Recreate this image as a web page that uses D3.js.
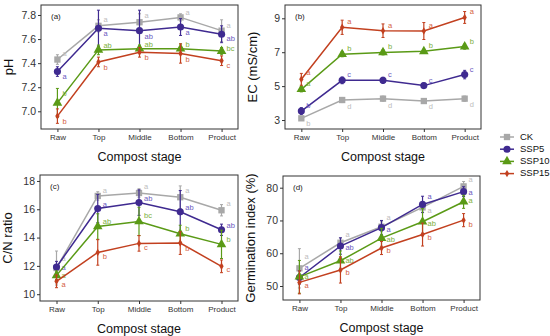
<!DOCTYPE html>
<html>
<head>
<meta charset="utf-8">
<script src="https://cdn.jsdelivr.net/npm/d3@7"></script>
<style>
  body { margin: 0; background: #fff; }
  text { font-family: Arial, "Liberation Sans", sans-serif; }
</style>
</head>
<body>
<script>
var stages = ["Raw", "Top", "Middle", "Bottom", "Product"];
var groups = ["CK", "SSP5", "SSP10", "SSP15"];

// rows: CK, SSP5, SSP10, SSP15
var phMean = [[7.43, 7.71, 7.74, 7.78, 7.67], [7.33, 7.69, 7.67, 7.70, 7.64], [7.07, 7.51, 7.52, 7.52, 7.50], [6.96, 7.41, 7.49, 7.48, 7.42]];
var phErr = [[0.04, 0.05, 0.07, 0.03, 0.09], [0.04, 0.15, 0.17, 0.07, 0.07], [0.12, 0.04, 0.03, 0.04, 0.03], [0.06, 0.04, 0.04, 0.08, 0.04]];
var phLet = [["a", "a", "a", "a", "a"], ["a", "a", "ab", "a", "ab"], ["b", "ab", "ab", "b", "bc"], ["b", "b", "b", "b", "c"]];
var phTicks = [7.0, 7.2, 7.4, 7.6, 7.8];

var ecMean = [[3.10, 4.18, 4.26, 4.12, 4.26], [3.53, 5.34, 5.34, 5.03, 5.68], [4.81, 6.88, 6.99, 7.05, 7.33], [5.40, 8.47, 8.27, 8.25, 9.05]];
var ecErr = [[0.12, 0.15, 0.15, 0.12, 0.15], [0.2, 0.2, 0.18, 0.15, 0.25], [0.15, 0.15, 0.15, 0.12, 0.15], [0.35, 0.42, 0.4, 0.5, 0.35]];
var ecLet = [["b", "d", "d", "d", "d"], ["b", "c", "c", "c", "c"], ["a", "b", "b", "b", "b"], ["a", "a", "a", "a", "a"]];
var ecTicks = [3, 5, 7, 9];

var cnMean = [[11.85, 16.94, 17.15, 16.85, 15.93], [11.92, 16.05, 16.47, 15.82, 14.55], [11.33, 14.78, 15.14, 14.27, 13.52], [10.91, 12.95, 13.59, 13.61, 11.97]];
var cnErr = [[1.2, 0.3, 0.3, 0.8, 0.4], [0.4, 1.0, 0.9, 1.5, 0.4], [0.3, 0.9, 1.0, 0.6, 1.0], [0.45, 0.9, 0.55, 0.8, 0.45]];
var cnLet = [["a", "a", "a", "a", "a"], ["a", "a", "ab", "ab", "ab"], ["a", "ab", "bc", "b", "b"], ["a", "b", "c", "b", "c"]];
var cnTicks = [10, 12, 14, 16, 18];

var giMean = [[55.4, 63.2, 68.1, 74.0, 80.4], [52.6, 62.2, 67.8, 74.9, 78.8], [52.8, 57.7, 64.6, 69.6, 75.7], [51.1, 54.9, 61.6, 65.7, 70.1]];
var giErr = [[6, 1.5, 1.5, 1.5, 1.5], [2, 2.5, 2.2, 2.5, 1.5], [5, 3, 3, 4, 2], [3.5, 4, 2, 3.5, 2]];
var giLet = [["a", "a", "a", "a", "a"], ["a", "ab", "a", "a", "a"], ["a", "ab", "ab", "ab", "a"], ["a", "b", "b", "b", "b"]];
var giTicks = [50, 60, 70, 80];

var colors = ["#a8a8a8", "#3f2a90", "#5a9a16", "#c2401f"];
var letterColors = ["#bdbdbd", "#6a58c0", "#7db040", "#d4603f"];
var shapes = [d3.symbolSquare, d3.symbolCircle, d3.symbolTriangle, d3.symbolDiamond];
var shapeSizes = [40, 40, 40, 16];

var svg = d3.select("body").append("svg")
  .attr("width", 550)
  .attr("height", 336);

// layout per panel; nudge = vertical shift of each letter label (px)
var panels = [
  {tag: "(a)", title: "pH", mean: phMean, err: phErr, let: phLet, ticks: phTicks, fmt: ".1f",
   left: 41, right: 238, top: 5, bottom: 129, domain: [6.853, 7.883],
   nudge: [[-6, -6, -6, -4, -5], [5, 6, 6, 6, 5], [-9, -4, -4, -4, -2], [6, 6, 6, 6, 5]]},
  {tag: "(b)", title: "EC (mS/cm)", mean: ecMean, err: ecErr, let: ecLet, ticks: ecTicks, fmt: "d",
   left: 285, right: 481, top: 5, bottom: 129, domain: [2.47, 9.785],
   nudge: [[6, 7, 7, 6, 6], [-5, -5, -5, -5, -5], [-5, -5, -5, -5, -5], [-6, -5, -5, -5, -5]]},
  {tag: "(c)", title: "C/N ratio", mean: cnMean, err: cnErr, let: cnLet, ticks: cnTicks, fmt: "d",
   left: 40, right: 238, top: 175, bottom: 301, domain: [9.52, 18.42],
   nudge: [[-9, -5, -6, -6, -6], [1, -4, -4, -4, -4], [1, -5, -5, -5, -4], [4, 5, 5, 6, 4]]},
  {tag: "(d)", title: "Germination index (%)", mean: giMean, err: giErr, let: giLet, ticks: giTicks, fmt: "d",
   left: 283, right: 480, top: 176, bottom: 300, domain: [45.73, 83.57],
   nudge: [[-11, -8, -9, 4, -6], [-9, 2, 2, -7, 1], [0, 0, 2, 2, -1], [4, 3, 3, 3, 5]]}
];

panels.forEach(function(p) {
  var w = p.right - p.left;
  var h = p.bottom - p.top;
  var g = svg.append("g").attr("transform", "translate(" + p.left + "," + p.top + ")");

  var x = d3.scalePoint().domain(stages).range([0, w]).padding(0.4);
  var y = d3.scaleLinear().domain(p.domain).range([h, 0]);

  var yAxis = d3.axisLeft(y).tickValues(p.ticks).tickSize(3).tickPadding(2).tickFormat(d3.format(p.fmt));
  var xAxis = d3.axisBottom(x).tickSize(3).tickPadding(2);

  var gy = g.append("g").call(yAxis);
  gy.select(".domain").remove();
  gy.selectAll("text").attr("font-size", 10.5).attr("fill", "#333");
  gy.selectAll("line").attr("stroke", "#333");

  var gx = g.append("g").attr("transform", "translate(0," + h + ")").call(xAxis);
  gx.select(".domain").remove();
  gx.selectAll("text").attr("font-size", 8).attr("fill", "#333");
  gx.selectAll("line").attr("stroke", "#333");

  var line = d3.line()
    .x(function(d, i) { return x(stages[i]); })
    .y(function(d) { return y(d); });

  groups.forEach(function(grp, s) {
    var col = colors[s];
    g.append("path")
      .datum(p.mean[s])
      .attr("d", line)
      .attr("fill", "none")
      .attr("stroke", col)
      .attr("stroke-width", 1.5);

    p.mean[s].forEach(function(v, i) {
      var cx = x(stages[i]);
      var e = p.err[s][i];
      g.append("line")
        .attr("x1", cx).attr("x2", cx)
        .attr("y1", y(v - e)).attr("y2", y(v + e))
        .attr("stroke", col).attr("stroke-width", 1.2);
      [v - e, v + e].forEach(function(t) {
        g.append("line")
          .attr("x1", cx - 1.5).attr("x2", cx + 1.5)
          .attr("y1", y(t)).attr("y2", y(t))
          .attr("stroke", col).attr("stroke-width", 1);
      });
      g.append("path")
        .attr("d", d3.symbol().type(shapes[s]).size(shapeSizes[s]))
        .attr("transform", "translate(" + cx + "," + y(v) + ")")
        .attr("fill", col);
      g.append("text")
        .attr("x", cx + 5)
        .attr("y", y(v) + p.nudge[s][i])
        .attr("dominant-baseline", "middle")
        .attr("font-size", 7.5)
        .attr("fill", letterColors[s])
        .text(p.let[s][i]);
    });
  });

  g.append("rect")
    .attr("width", w).attr("height", h)
    .attr("fill", "none")
    .attr("stroke", "#333")
    .attr("stroke-width", 1);

  g.append("text")
    .attr("x", 10).attr("y", 14)
    .attr("font-size", 8)
    .attr("fill", "#222")
    .text(p.tag);

  g.append("text")
    .attr("x", w / 2).attr("y", h + 32)
    .attr("text-anchor", "middle")
    .attr("font-size", 12.5)
    .attr("fill", "#111")
    .text("Compost stage");

  g.append("text")
    .attr("transform", "translate(" + (-28) + "," + (h / 2) + ") rotate(-90)")
    .attr("text-anchor", "middle")
    .attr("font-size", 13)
    .attr("fill", "#111")
    .text(p.title);
});

// legend
var leg = svg.append("g").attr("transform", "translate(507,137)");
groups.forEach(function(grp, s) {
  var row = leg.append("g").attr("transform", "translate(0," + (s * 12.2) + ")");
  row.append("line")
    .attr("x1", -7).attr("x2", 7)
    .attr("stroke", colors[s]).attr("stroke-width", 1.5);
  row.append("path")
    .attr("d", d3.symbol().type(shapes[s]).size(shapeSizes[s]))
    .attr("fill", colors[s]);
  row.append("text")
    .attr("x", 13)
    .attr("dominant-baseline", "middle")
    .attr("font-size", 9.5)
    .attr("fill", "#111")
    .text(grp);
});
</script>
</body>
</html>
